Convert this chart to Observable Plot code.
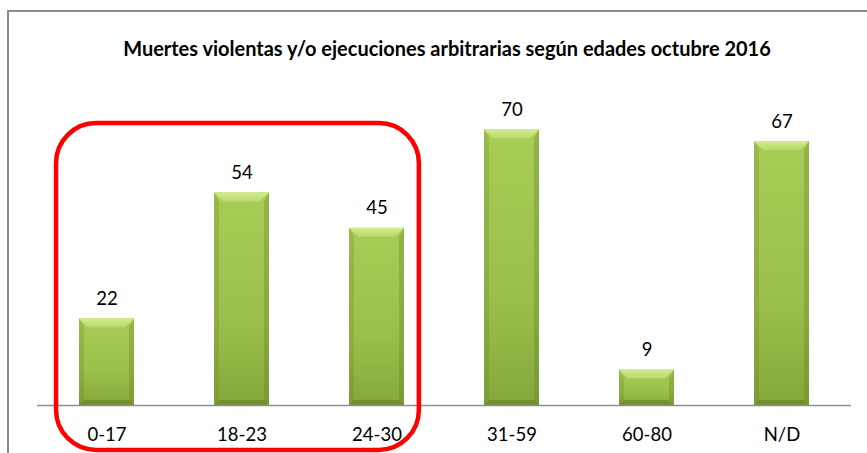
<!DOCTYPE html>
<html><head><meta charset="utf-8">
<script src="https://cdn.jsdelivr.net/npm/d3@7"></script>
<script src="https://cdn.jsdelivr.net/npm/@observablehq/plot@0.6"></script>
<style>
body{margin:0;background:#fff;}
#wrap{position:relative;width:867px;height:453px;overflow:hidden;background:#fff;}
#frame{position:absolute;left:7px;top:10px;width:880px;height:460px;border-top:2px solid #8c8c8c;border-left:2px solid #8c8c8c;box-sizing:border-box;}
#title{position:absolute;left:0;top:36px;width:894px;text-align:center;font-family:Lato,"Open Sans",sans-serif;font-weight:bold;font-size:17px;color:#000;white-space:nowrap;}
#chart{position:absolute;left:0;top:0;}
</style></head><body>
<div id="wrap"><div id="frame"></div><div id="chart"></div><div id="title"></div></div>
<script>
const title = "Muertes violentas y/o ejecuciones arbitrarias según edades octubre 2016";
const categories = ["0-17","18-23","24-30","31-59","60-80","N/D"];
const values = [22,54,45,70,9,67];
const boxFrom = "0-17", boxTo = "24-30";

const data = categories.map((c,i)=>({c, v: values[i]}));

// title, fitted to the reference width
const t = document.getElementById("title");
t.textContent = title;
const ctx = document.createElement("canvas").getContext("2d");
ctx.font = "bold 17px Lato";
const w = ctx.measureText(title).width;
t.style.fontSize = (17*649/w).toFixed(2)+"px";

const plot = Plot.plot({
  width: 867, height: 453,
  marginLeft: 37, marginRight: 16, marginTop: 90, marginBottom: 48,
  style: {fontFamily: "Lato, 'Open Sans', sans-serif", fontSize: "18.5px", color: "#000", background: "transparent", overflow: "visible"},
  x: {domain: categories, paddingInner: 0.595, paddingOuter: 0.2975, tickSize: 0, tickPadding: 22, label: null},
  y: {domain: [0, 80], axis: null},
  marks: [
    Plot.barY(data, {x: "c", y: "v", fill: "url(#barGrad)", className: "bars"}),
    Plot.ruleY([0], {stroke: "#8e8e8e", strokeWidth: 1.5}),
    Plot.text(data, {x: "c", y: "v", text: d => String(d.v), dy: -14, lineAnchor: "bottom", fill: "#000"})
  ]
});
document.getElementById("chart").appendChild(plot);

const svg = d3.select(plot);
const defs = svg.insert("defs", ":first-child");
const g1 = defs.append("linearGradient").attr("id","barGrad").attr("x1",0).attr("y1",0).attr("x2",0).attr("y2",1);
g1.append("stop").attr("offset","0%").attr("stop-color","#a8cd56");
g1.append("stop").attr("offset","60%").attr("stop-color","#9bbf4b");
g1.append("stop").attr("offset","100%").attr("stop-color","#86a83b");
const gt = defs.append("linearGradient").attr("id","topGrad").attr("x1",0).attr("y1",0).attr("x2",0).attr("y2",1);
gt.append("stop").attr("offset","0%").attr("stop-color","#d4ec93");
gt.append("stop").attr("offset","100%").attr("stop-color","#b6d966");

// bevel on each bar, derived from the rendered rects
svg.selectAll("g.bars rect").each(function(){
  const r = d3.select(this);
  const x = +r.attr("x"), y = +r.attr("y"), w = +r.attr("width"), h = +r.attr("height");
  const b = Math.min(9, h/3), s = 5;
  const p = d3.select(this.parentNode);
  const poly = (pts, fill) => p.append("polygon").attr("points", pts.map(q=>q.join(",")).join(" ")).attr("fill", fill);
  poly([[x,y],[x+s,y+b],[x+s,y+h-s],[x,y+h]], "rgba(90,120,30,0.22)");
  poly([[x+w,y],[x+w,y+h],[x+w-s,y+h-s],[x+w-s,y+b]], "rgba(90,120,30,0.28)");
  poly([[x,y+h],[x+s,y+h-s],[x+w-s,y+h-s],[x+w,y+h]], "rgba(70,100,20,0.35)");
  poly([[x,y],[x+w,y],[x+w-b,y+b],[x+b,y+b]], "url(#topGrad)");
});

// red rounded highlight box around the first three groups
const xs = plot.scale("x"), ys = plot.scale("y");
const step = xs.step, bw = xs.bandwidth;
const bx1 = xs.apply(boxFrom) - 0.17*step;
const bx2 = xs.apply(boxTo) + bw + 0.11*step;
const by1 = ys.apply(71.6), by2 = ys.apply(-11.4);
svg.append("rect").attr("x", bx1).attr("y", by1).attr("width", bx2-bx1).attr("height", by2-by1)
  .attr("rx", 40).attr("fill", "none").attr("stroke", "#ff0000").attr("stroke-width", 4.5);
</script>
</body></html>
